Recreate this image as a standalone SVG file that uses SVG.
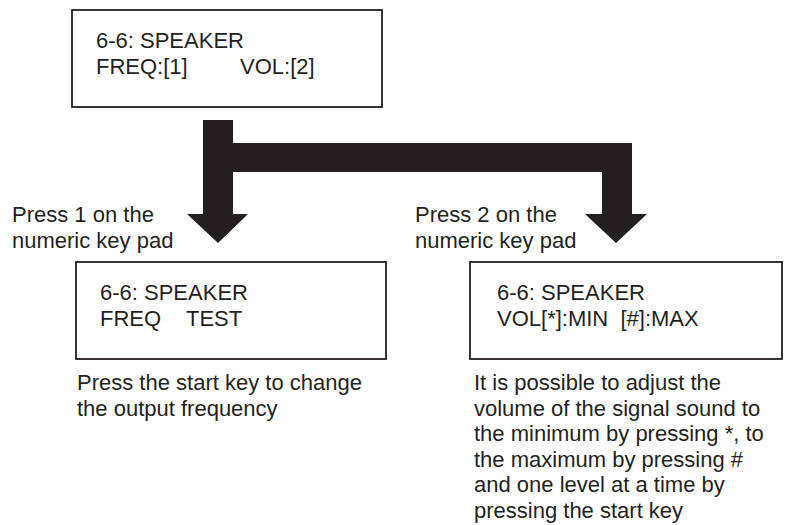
<svg xmlns="http://www.w3.org/2000/svg" width="792" height="525" viewBox="0 0 792 525">
<style>
.box{fill:#fff;stroke:#231f20;stroke-width:1.8}
text{font-family:"Liberation Sans",Arial,sans-serif;font-size:22px;fill:#231f20}
.arrow{fill:#231f20;stroke:none}
</style>
<rect width="792" height="525" fill="#fff"/>
<g id="connectors">
<path class="arrow" d="M203,120 H233 V143 H632 V214 H647 L616,243 L585,214 H602 V172 H233 V214 H248 L218,243 L187,214 H203 Z"/>
</g>
<g id="top">
<rect class="box" x="72" y="10" width="310" height="97"/>
<text x="96" y="48">6-6: SPEAKER</text>
<text x="96" y="73.5">FREQ:[1]</text>
<text x="240" y="73.5">VOL:[2]</text>
</g>
<g id="label1">
<text x="12" y="222">Press 1 on the</text>
<text x="12" y="247.5">numeric key pad</text>
</g>
<g id="label2">
<text x="415" y="222">Press 2 on the</text>
<text x="415" y="247.5">numeric key pad</text>
</g>
<g id="freq">
<rect class="box" x="76" y="262" width="310" height="97"/>
<text x="100" y="300">6-6: SPEAKER</text>
<text x="100" y="325.5">FREQ</text>
<text x="186" y="325.5">TEST</text>
<text x="77" y="390">Press the start key to change</text>
<text x="77" y="415.5">the output frequency</text>
</g>
<g id="vol">
<rect class="box" x="470" y="262" width="312" height="97"/>
<text x="497" y="300">6-6: SPEAKER</text>
<text x="497" y="325.5" xml:space="preserve">VOL[*]:MIN  [#]:MAX</text>
<text x="474" y="390">It is possible to adjust the</text>
<text x="474" y="415.5">volume of the signal sound to</text>
<text x="474" y="441">the minimum by pressing *, to</text>
<text x="474" y="466.5">the maximum by pressing #</text>
<text x="474" y="492">and one level at a time by</text>
<text x="474" y="517.5">pressing the start key</text>
</g>
</svg>
